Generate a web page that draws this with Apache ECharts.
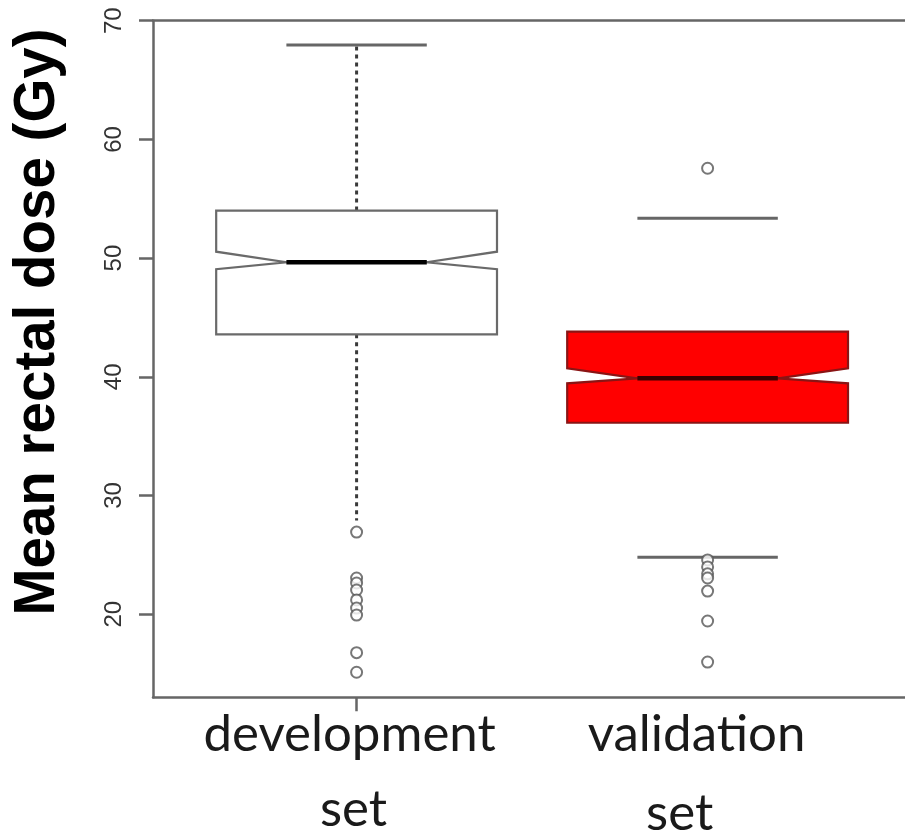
<!DOCTYPE html>
<html><head><meta charset="utf-8">
<script src="https://cdn.jsdelivr.net/npm/echarts@6/dist/echarts.min.js"></script>
<style>html,body{margin:0;padding:0;background:#fff;overflow:hidden}#c{width:905px;height:837px}</style>
</head><body><div id="c"></div>
<script>
// ---- data ----
const categories = ['development', 'validation'];
const categoryPositions = [1, 2];
// [whiskerLow, Q1, notchLow, median, notchHigh, Q3, whiskerHigh]
const developmentBox = [27.9, 43.58, 49.06, 49.65, 50.54, 54.0, 67.95];
const validationBox = [24.8, 36.13, 39.45, 39.87, 40.72, 43.8, 53.35];
const developmentOutliers = [26.92, 23.05, 22.63, 22.04, 21.2, 20.52, 19.93, 16.76, 15.11];
const validationOutliers = [57.57, 24.57, 23.98, 23.4, 23.05, 21.95, 19.43, 15.97];
const yTickValues = [20, 30, 40, 50, 60, 70];
const xTickValues = [1];
const yAxisTitle = 'Mean rectal dose (Gy)';

// ---- styles (per box) ----
const boxStyles = [
  { fill: '#ffffff', stroke: '#6a6a6a', median: '#000000', whiskerLine: true, capLow: false, capHigh: true },
  { fill: '#ff0000', stroke: '#8a1414', median: '#3a0000', whiskerLine: false, capLow: true, capHigh: true }
];

const boxData = [
  [categoryPositions[0]].concat(developmentBox),
  [categoryPositions[1]].concat(validationBox)
];

function renderBox(params, api) {
  const st = boxStyles[params.dataIndex];
  const x = api.value(0);
  const wl = api.value(1), q1 = api.value(2), nl = api.value(3), md = api.value(4),
        nh = api.value(5), q3 = api.value(6), wh = api.value(7);
  const halfW = 0.4, notchW = 0.2, capW = 0.2;
  const P = (dx, v) => api.coord([x + dx, v]);
  const children = [];
  if (st.whiskerLine) {
    const lineStyle = { stroke: '#3a3a3a', lineWidth: 3, lineDash: [4, 4] };
    const a = P(0, q3), b = P(0, wh), c = P(0, q1), d = P(0, wl);
    children.push({ type: 'line', shape: { x1: a[0], y1: a[1], x2: b[0], y2: b[1] }, style: lineStyle });
    children.push({ type: 'line', shape: { x1: c[0], y1: c[1], x2: d[0], y2: d[1] }, style: lineStyle });
  }
  const capStyle = { stroke: '#666', lineWidth: 3 };
  if (st.capHigh) {
    const a = P(-capW, wh), b = P(capW, wh);
    children.push({ type: 'line', shape: { x1: a[0], y1: a[1], x2: b[0], y2: b[1] }, style: capStyle });
  }
  if (st.capLow) {
    const a = P(-capW, wl), b = P(capW, wl);
    children.push({ type: 'line', shape: { x1: a[0], y1: a[1], x2: b[0], y2: b[1] }, style: capStyle });
  }
  const pts = [P(-halfW, q1), P(halfW, q1), P(halfW, nl), P(notchW, md), P(halfW, nh),
               P(halfW, q3), P(-halfW, q3), P(-halfW, nh), P(-notchW, md), P(-halfW, nl)];
  children.push({ type: 'polygon', shape: { points: pts }, style: { fill: st.fill, stroke: st.stroke, lineWidth: 2.2 } });
  const m1 = P(-notchW, md), m2 = P(notchW, md);
  children.push({ type: 'line', shape: { x1: m1[0], y1: m1[1], x2: m2[0], y2: m2[1] }, style: { stroke: st.median, lineWidth: 4.5 } });
  return { type: 'group', children: children };
}

const chart = echarts.init(document.getElementById('c'), null, { renderer: 'canvas' });
const axisColor = '#666';
const option = {
  animation: false,
  backgroundColor: '#ffffff',
  grid: { left: 153, top: 20.7, right: -6.2, bottom: 139.7, show: false, containLabel: false, outerBoundsMode: 'none' },
  xAxis: [{
    type: 'value', min: 0.42, max: 2.58,
    axisLine: { show: true, lineStyle: { color: axisColor, width: 2.5 } },
    axisTick: { show: true, customValues: xTickValues, length: 14, lineStyle: { color: axisColor, width: 2.5 } },
    axisLabel: {
      show: true, customValues: categoryPositions, margin: -1,
      formatter: function (v) {
        const i = categoryPositions.indexOf(v);
        if (i === 0) return '{a|' + categories[0] + '}\n{b|set}';
        if (i === 1) return '{c|' + categories[1] + '}\n{d|set}';
        return '';
      },
      rich: {
        a: { fontFamily: 'Lato', fontSize: 51, color: '#1a1a1a', lineHeight: 76, padding: [0, 14, 0, 0] },
        b: { fontFamily: 'Lato', fontSize: 51, color: '#1a1a1a', lineHeight: 74, padding: [0, 6, 0, 0] },
        c: { fontFamily: 'Lato', fontSize: 51, color: '#1a1a1a', lineHeight: 76, padding: [0, 22, 0, 0] },
        d: { fontFamily: 'Lato', fontSize: 51, color: '#1a1a1a', lineHeight: 80, padding: [2, 56, 0, 0] }
      }
    },
    splitLine: { show: false }
  }, {
    type: 'value', position: 'top', min: 0.42, max: 2.58,
    axisLine: { show: true, lineStyle: { color: axisColor, width: 2.5 } },
    axisTick: { show: false }, axisLabel: { show: false }, splitLine: { show: false }
  }],
  yAxis: {
    type: 'value', min: 13, max: 70,
    axisLine: { show: true, lineStyle: { color: axisColor, width: 2.5 } },
    axisTick: { show: true, customValues: yTickValues, length: 14, lineStyle: { color: axisColor, width: 2.5 } },
    axisLabel: { show: false },
    splitLine: { show: false }
  },
  series: [
    { type: 'custom', renderItem: renderBox, data: boxData, encode: { x: 0, y: [1, 2, 3, 4, 5, 6, 7] }, z: 2 },
    { type: 'scatter', data: developmentOutliers.map(v => [categoryPositions[0], v]), symbol: 'emptyCircle', symbolSize: 11,
      itemStyle: { color: '#555', borderWidth: 2 }, z: 3 },
    { type: 'scatter', data: validationOutliers.map(v => [categoryPositions[1], v]), symbol: 'emptyCircle', symbolSize: 11,
      itemStyle: { color: '#555', borderWidth: 2 }, z: 3 }
  ]
};
chart.setOption(option);

// y-axis title and rotated tick labels (positions taken from the y-axis scale)
const graphics = [{
  type: 'text', x: 38, y: 322, rotation: Math.PI / 2,
  style: { text: yAxisTitle, fontFamily: 'Liberation Sans', fontWeight: 'bold', fontSize: 56.5, fill: '#000', align: 'center', verticalAlign: 'middle' }
}];
yTickValues.forEach(function (v) {
  const py = chart.convertToPixel({ yAxisIndex: 0 }, v);
  graphics.push({
    type: 'text', x: 114, y: py, rotation: Math.PI / 2,
    style: { text: String(v), fontFamily: 'Liberation Sans', fontSize: 24, fill: '#333', align: 'center', verticalAlign: 'middle' }
  });
});
option.graphic = graphics;
chart.setOption(option, true);
</script>
</body></html>
